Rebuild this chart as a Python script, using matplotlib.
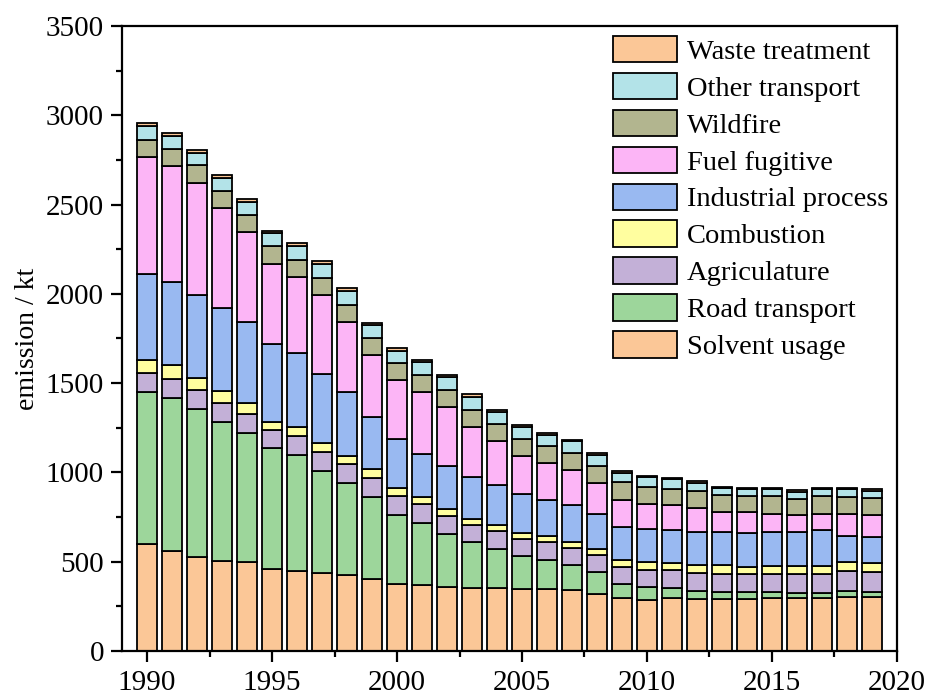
import numpy as np
import matplotlib
matplotlib.use('Agg')
import matplotlib.pyplot as plt
from matplotlib.ticker import MultipleLocator

plt.rcParams['font.family'] = ['Liberation Serif', 'DejaVu Serif']

years = list(range(1990, 2020))

solvent = [598, 560, 526, 506, 500, 462, 450, 436, 425, 401, 377, 368, 359, 355, 353,
           348, 350, 342, 320, 295, 288, 297, 292, 292, 292, 297, 295, 297, 305, 303]
road = [855, 857, 827, 779, 722, 674, 646, 572, 516, 460, 384, 350, 299, 255, 217,
        183, 161, 139, 121, 81, 69, 58, 46, 37, 37, 32, 30, 28, 30, 26]
agri = [104, 106, 106, 106, 103, 104, 108, 108, 107, 106, 106, 105, 99, 97, 101,
        97, 99, 95, 98, 97, 97, 98, 101, 103, 103, 103, 107, 107, 114, 114]
comb = [71, 77, 70, 64, 62, 42, 48, 48, 44, 51, 46, 37, 36, 34, 34,
        34, 33, 34, 33, 38, 45, 39, 43, 47, 41, 43, 43, 43, 48, 49]
industrial = [485, 469, 466, 466, 455, 438, 418, 385, 357, 291, 275, 245, 243, 233, 223,
              217, 204, 207, 198, 181, 185, 183, 187, 187, 187, 191, 191, 200, 146, 149]
fuel = [655, 649, 626, 562, 502, 448, 427, 446, 393, 347, 327, 344, 333, 283, 248,
        211, 204, 197, 169, 155, 141, 140, 131, 112, 116, 104, 95, 95, 127, 120]
wildfire = [96, 94, 99, 94, 97, 98, 95, 96, 95, 94, 95, 96, 93, 95, 96,
            96, 95, 97, 95, 97, 95, 94, 98, 93, 90, 96, 92, 96, 92, 95]
other = [78, 74, 70, 72, 72, 72, 76, 77, 78, 74, 70, 71, 75, 73, 69,
         69, 66, 63, 64, 55, 52, 52, 44, 43, 43, 41, 39, 39, 45, 42]
waste = [16, 14, 16, 16, 16, 14, 16, 14, 16, 12, 15, 13, 11, 13, 11,
         13, 9, 10, 9, 7, 8, 8, 8, 6, 5, 7, 7, 6, 7, 7]

labels = ['Solvent usage', 'Road transport', 'Agriculature', 'Combustion',
          'Industrial process', 'Fuel fugitive', 'Wildfire', 'Other transport',
          'Waste treatment']
colors = ['#FBC797', '#9DD69B', '#C3B0D7', '#FFFE9F', '#99B9F1',
          '#FCB5F6', '#B2B58F', '#B3E3E8', '#FBC797']

series = [solvent, road, agri, comb, industrial, fuel, wildfire, other, waste]

fig = plt.figure(figsize=(9.3, 6.98), dpi=100)
ax = fig.add_axes([0.1312, 0.0673, 0.8333, 0.8955])

bottom = np.zeros(len(years))
for vals, lab, col in zip(series, labels, colors):
    ax.bar(years, vals, width=0.8, bottom=bottom, color=col, edgecolor='black',
           linewidth=1.3, label=lab)
    bottom += np.array(vals)

ax.set_xlim(1989, 2020)
ax.set_ylim(0, 3500)
ax.xaxis.set_major_locator(MultipleLocator(5))
ax.xaxis.set_minor_locator(MultipleLocator(2.5))
ax.yaxis.set_major_locator(MultipleLocator(500))
ax.yaxis.set_minor_locator(MultipleLocator(250))
ax.tick_params(which='major', direction='out', length=8, width=1.6, labelsize=21)
ax.tick_params(axis='x', which='major', pad=6)
ax.tick_params(axis='y', which='major', pad=5)
ax.tick_params(which='minor', direction='out', length=4.5, width=1.6)
for s in ax.spines.values():
    s.set_linewidth(1.6)
ax.set_ylabel('emission / kt', fontsize=20, labelpad=4)

h, l = ax.get_legend_handles_labels()
ax.legend(h[::-1], l[::-1], loc='upper left', bbox_to_anchor=(0.633, 0.984),
          frameon=False, fontsize=20.5, handlelength=2.25, handleheight=1.05,
          labelspacing=0.28, handletextpad=0.36, borderpad=0, borderaxespad=0)

fig.savefig('out.png', dpi=100)
